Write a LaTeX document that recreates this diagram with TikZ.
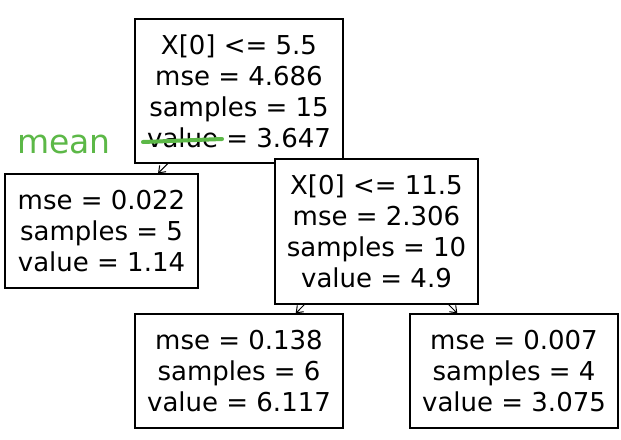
\documentclass[tikz,border=0pt]{standalone}
\usepackage{fontspec}
\setmainfont{DejaVu Sans}
\usetikzlibrary{arrows.meta,backgrounds}
\definecolor{PenGreen}{HTML}{5CB847}

\begin{document}
\begin{tikzpicture}[x=1pt,y=-1pt,
  split/.style={draw=black,line width=1.2pt,fill=white,minimum height=144pt,align=center,inner sep=0pt,font=\fontsize{26}{31}\selectfont},
  leaf/.style={split,minimum height=114pt},
  arr/.style={-{Straight Barb[length=6pt,width=9pt]},line width=1pt,draw=black},
  penmark/.style={text=PenGreen,anchor=base,inner sep=0pt,font=\fontsize{33}{33}\selectfont},
  strike/.style={draw=PenGreen,line width=4pt,line cap=round}
]
\useasboundingbox (0,0) rectangle (621,439);
\node[split,minimum width=208pt] (root) at (239,91) {X[0] <= 5.5\\mse = 4.686\\samples = 15\\value = 3.647};
\node[leaf,minimum width=193pt] (leftleaf) at (101.5,231) {mse = 0.022\\samples = 5\\value = 1.14};
\node[split,minimum width=203pt,minimum height=145pt] (rightsplit) at (376.5,231.5) {X[0] <= 11.5\\mse = 2.306\\samples = 10\\value = 4.9};
\node[leaf,minimum width=208pt] (lowleft) at (239,371) {mse = 0.138\\samples = 6\\value = 6.117};
\node[leaf,minimum width=208pt] (lowright) at (514,371) {mse = 0.007\\samples = 4\\value = 3.075};
\begin{scope}[on background layer]
\fill[white] (0,0) rectangle (621,439);
\draw[arr] (root) -- (leftleaf);
\draw[arr] (root) -- (rightsplit);
\draw[arr] (rightsplit) -- (lowleft);
\draw[arr] (rightsplit) -- (lowright);
\end{scope}
% handwritten note
\node[penmark] (meanlabel) at (64,153) {mean};
\coordinate (strikeA) at (143,142);
\coordinate (strikeB) at (222,139);
\draw[strike] (strikeA) -- (strikeB);
\end{tikzpicture}
\end{document}
